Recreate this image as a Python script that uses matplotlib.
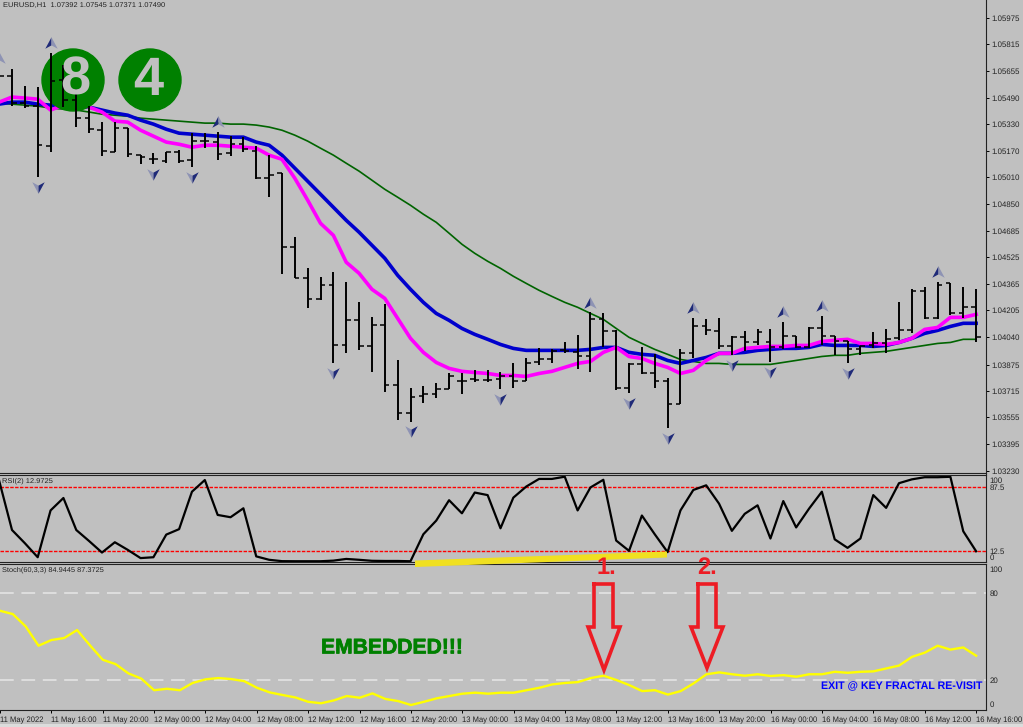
import numpy as np
import matplotlib
matplotlib.use('Agg')
import matplotlib.pyplot as plt
import matplotlib.patheffects as pe
from matplotlib.patches import Circle
from matplotlib.path import Path
from matplotlib.transforms import IdentityTransform

plt.rcParams['font.family'] = ['Liberation Sans', 'DejaVu Sans']
plt.rcParams['text.hinting'] = 'none'

W, H = 1023, 727
BG = '#c0c0c0'

# bars, index -1 is the one cut off at the left edge
opens = [1.05538, 1.05623, 1.05459, 1.05441, 1.05198, 1.05599, 1.05477, 1.05368, 1.05295, 1.05162, 1.05308, 1.05144, 1.05119, 1.05107, 1.05162, 1.05113, 1.05229, 1.05223, 1.05156, 1.05210, 1.05168, 1.05004, 1.05035, 1.04586, 1.04398, 1.04270, 1.04355, 1.03991, 1.04143, 1.03985, 1.04113, 1.03749, 1.03579, 1.03682, 1.03694, 1.03724, 1.03773, 1.03785, 1.03779, 1.03785, 1.03803, 1.03773, 1.03888, 1.03906, 1.03961, 1.03949, 1.03924, 1.04149, 1.04076, 1.03736, 1.03876, 1.03821, 1.03773, 1.03639, 1.03943, 1.04106, 1.04076, 1.03985, 1.04040, 1.04009, 1.04009, 1.03979, 1.04046, 1.03979, 1.04094, 1.04046, 1.04015, 1.03967, 1.03991, 1.04003, 1.04034, 1.04082, 1.04319, 1.04155, 1.04367, 1.04185, 1.04222]
highs = [1.05672, 1.05665, 1.05562, 1.05556, 1.05763, 1.05690, 1.05544, 1.05441, 1.05344, 1.05344, 1.05308, 1.05144, 1.05156, 1.05162, 1.05174, 1.05277, 1.05277, 1.05283, 1.05259, 1.05253, 1.05198, 1.05144, 1.05035, 1.04646, 1.04458, 1.04404, 1.04434, 1.04373, 1.04252, 1.04161, 1.04240, 1.03900, 1.03736, 1.03743, 1.03761, 1.03821, 1.03821, 1.03840, 1.03840, 1.03827, 1.03882, 1.03912, 1.03973, 1.03967, 1.04009, 1.04052, 1.04191, 1.04185, 1.04082, 1.03882, 1.03979, 1.03937, 1.03791, 1.03967, 1.04155, 1.04149, 1.04155, 1.04046, 1.04076, 1.04088, 1.04088, 1.04131, 1.04046, 1.04100, 1.04167, 1.04046, 1.04015, 1.03985, 1.04070, 1.04088, 1.04252, 1.04331, 1.04343, 1.04373, 1.04367, 1.04343, 1.04331]
lows = [1.05508, 1.05441, 1.05429, 1.05010, 1.05162, 1.05435, 1.05314, 1.05277, 1.05138, 1.05162, 1.05132, 1.05089, 1.05089, 1.05095, 1.05095, 1.05071, 1.05186, 1.05113, 1.05138, 1.05162, 1.04998, 1.04889, 1.04422, 1.04398, 1.04216, 1.04264, 1.03882, 1.03943, 1.03961, 1.03827, 1.03706, 1.03542, 1.03530, 1.03645, 1.03670, 1.03724, 1.03694, 1.03767, 1.03767, 1.03724, 1.03736, 1.03773, 1.03870, 1.03882, 1.03943, 1.03846, 1.03827, 1.03979, 1.03718, 1.03700, 1.03815, 1.03730, 1.03488, 1.03639, 1.03912, 1.04052, 1.03967, 1.03931, 1.03955, 1.03991, 1.03888, 1.03967, 1.03973, 1.03973, 1.03991, 1.03931, 1.03882, 1.03931, 1.03973, 1.03943, 1.04022, 1.04064, 1.04149, 1.04149, 1.04173, 1.04155, 1.04009]
closes = [1.05623, 1.05459, 1.05441, 1.05204, 1.05593, 1.05477, 1.05368, 1.05301, 1.05168, 1.05308, 1.05150, 1.05132, 1.05119, 1.05162, 1.05107, 1.05229, 1.05229, 1.05150, 1.05210, 1.05180, 1.05004, 1.05022, 1.04586, 1.04398, 1.04270, 1.04355, 1.03991, 1.04143, 1.03985, 1.04113, 1.03749, 1.03579, 1.03676, 1.03694, 1.03724, 1.03803, 1.03773, 1.03779, 1.03779, 1.03803, 1.03773, 1.03882, 1.03906, 1.03955, 1.03955, 1.03924, 1.04149, 1.04076, 1.03736, 1.03876, 1.03821, 1.03773, 1.03639, 1.03943, 1.04106, 1.04082, 1.03985, 1.04040, 1.04009, 1.04070, 1.03979, 1.04046, 1.03979, 1.04094, 1.04046, 1.04015, 1.03967, 1.03985, 1.04003, 1.04028, 1.04082, 1.04319, 1.04155, 1.04355, 1.04185, 1.04222, 1.04040]

ma_fast = [1.05465, 1.05496, 1.05490, 1.05483, 1.05417, 1.05447, 1.05453, 1.05435, 1.05405, 1.05350, 1.05344, 1.05295, 1.05259, 1.05223, 1.05210, 1.05192, 1.05204, 1.05204, 1.05198, 1.05192, 1.05186, 1.05144, 1.05119, 1.05004, 1.04871, 1.04731, 1.04658, 1.04495, 1.04428, 1.04331, 1.04276, 1.04155, 1.04034, 1.03949, 1.03888, 1.03852, 1.03834, 1.03827, 1.03821, 1.03809, 1.03809, 1.03803, 1.03821, 1.03834, 1.03858, 1.03882, 1.03894, 1.03949, 1.03979, 1.03924, 1.03912, 1.03882, 1.03858, 1.03821, 1.03840, 1.03900, 1.03943, 1.03943, 1.03973, 1.03979, 1.03985, 1.03985, 1.03991, 1.03991, 1.04015, 1.04022, 1.04028, 1.04003, 1.04003, 1.03997, 1.04009, 1.04034, 1.04088, 1.04100, 1.04161, 1.04161, 1.04179]
ma_mid = [1.05453, 1.05465, 1.05465, 1.05453, 1.05447, 1.05441, 1.05441, 1.05435, 1.05417, 1.05399, 1.05386, 1.05356, 1.05332, 1.05301, 1.05277, 1.05271, 1.05265, 1.05259, 1.05253, 1.05253, 1.05223, 1.05204, 1.05144, 1.05065, 1.04986, 1.04907, 1.04828, 1.04749, 1.04677, 1.04598, 1.04519, 1.04416, 1.04331, 1.04252, 1.04185, 1.04143, 1.04094, 1.04058, 1.04028, 1.03997, 1.03973, 1.03961, 1.03961, 1.03961, 1.03961, 1.03961, 1.03967, 1.03979, 1.03979, 1.03949, 1.03937, 1.03931, 1.03900, 1.03882, 1.03900, 1.03918, 1.03943, 1.03943, 1.03949, 1.03961, 1.03967, 1.03973, 1.03973, 1.03979, 1.03997, 1.03991, 1.03991, 1.03991, 1.03985, 1.03991, 1.04009, 1.04034, 1.04064, 1.04082, 1.04106, 1.04125, 1.04125]
ma_slow = [1.05459, 1.05453, 1.05447, 1.05441, 1.05429, 1.05423, 1.05417, 1.05405, 1.05392, 1.05386, 1.05380, 1.05368, 1.05362, 1.05356, 1.05350, 1.05344, 1.05338, 1.05338, 1.05332, 1.05332, 1.05326, 1.05314, 1.05295, 1.05265, 1.05229, 1.05186, 1.05144, 1.05095, 1.05047, 1.04992, 1.04937, 1.04889, 1.04840, 1.04786, 1.04737, 1.04671, 1.04604, 1.04549, 1.04501, 1.04458, 1.04410, 1.04367, 1.04325, 1.04288, 1.04252, 1.04222, 1.04185, 1.04149, 1.04094, 1.04040, 1.04003, 1.03967, 1.03937, 1.03906, 1.03894, 1.03882, 1.03882, 1.03876, 1.03876, 1.03876, 1.03876, 1.03888, 1.03900, 1.03912, 1.03924, 1.03931, 1.03931, 1.03943, 1.03949, 1.03955, 1.03967, 1.03979, 1.03991, 1.04003, 1.04009, 1.04028, 1.04028]

fractals_up = [-1, 3, 16, 45, 53, 60, 63, 72]
fractals_down = [2, 11, 14, 25, 31, 38, 48, 51, 56, 59, 65]

rsi = [95, 37, 21.5, 5, 60, 74.6, 37, 24, 10.5, 22.6, 13.7, 4, 5, 31.6, 38, 82, 95.7, 54.7, 52, 62.5, 6, 2, 0.4, 0.3, 0.3, 0.3, 1, 3, 2, 0.8, 0.6, 0.6, 0.3, 32, 48, 72, 56.6, 81, 78, 39, 75, 88, 97, 97, 99.6, 60, 87, 96, 24.6, 12.5, 54, 32, 11, 60, 84, 89.5, 68, 36, 56, 66, 27, 71, 40, 62, 82, 26, 16, 27, 78, 63, 92, 96.5, 99, 99, 99.5, 35.5, 12]
stoch = [67.8, 65.5, 57, 43.7, 47.6, 49, 54.5, 44, 34, 31, 24.6, 21, 13, 14, 13, 18, 20.5, 21.4, 20.7, 19.3, 14.7, 11.5, 9.7, 8, 5, 4, 6, 9, 7.8, 10.8, 7, 5.5, 2.8, 5, 7.4, 9, 10.6, 11.3, 10.6, 11.3, 11.3, 13, 14.7, 17, 18, 18.6, 21.4, 23, 20, 16.5, 12.4, 13, 10, 12.4, 17.7, 24, 25.3, 24, 23, 24, 22.8, 23.4, 22.3, 24, 24, 25.7, 25, 25.7, 26, 28, 30, 36, 38.9, 43.7, 41, 42.5, 36.8]

price_ticks = [1.05975, 1.05815, 1.05655, 1.05490, 1.05330, 1.05170, 1.05010, 1.04850, 1.04685, 1.04525, 1.04365, 1.04205, 1.04040, 1.03875, 1.03715, 1.03555, 1.03395, 1.03230]
time_ticks = [-1, 3, 7, 11, 15, 19, 23, 27, 31, 35, 39, 43, 47, 51, 55, 59, 63, 67, 71, 75]
time_labels = ['11 May 2022', '11 May 16:00', '11 May 20:00', '12 May 00:00', '12 May 04:00', '12 May 08:00', '12 May 12:00',
               '12 May 16:00', '12 May 20:00', '13 May 00:00', '13 May 04:00', '13 May 08:00', '13 May 12:00', '13 May 16:00',
               '13 May 20:00', '16 May 00:00', '16 May 04:00', '16 May 08:00', '16 May 12:00', '16 May 16:00']

x = np.arange(-1, 76)
opens, highs, lows, closes = map(np.array, (opens, highs, lows, closes))


def panel(top, bottom, ylim):
    ax = fig.add_axes([0, 1 - bottom / H, 985.5 / W, (bottom - top) / H], facecolor=BG)
    ax.set_xlim(-0.9335, 75.73)
    ax.set_ylim(*ylim)
    ax.yaxis.tick_right()
    ax.spines['left'].set_visible(False)
    for side in ('right', 'top', 'bottom'):
        ax.spines[side].set_color('#222222')
    ax.tick_params(axis='y', labelsize=5.7, length=2.5, width=0.7, pad=2, labelcolor='#222222')
    ax.set_xticks([])
    return ax


def px_text(px, py, s, **kw):
    kw.setdefault('va', 'center')
    return fig.text(px / W, 1 - py / H, s, **kw)


fig = plt.figure(figsize=(W / 100, H / 100), dpi=100, facecolor=BG)

# price panel
ax = panel(0, 472.5, (1.03221, 1.06084))
ax.spines['top'].set_visible(False)
ax.set_yticks(price_ticks)
ax.set_yticklabels(['%.5f' % p for p in price_ticks])
ax.plot(x, ma_slow, color='#006400', lw=1.2, zorder=2)
ax.plot(x, ma_mid, color='#0000cd', lw=2.6, zorder=2.1)
ax.plot(x, ma_fast, color='#ff00ff', lw=2.6, zorder=2.2)

for cx in (73, 150):
    ax.add_patch(Circle((cx, H - 80), 31, transform=IdentityTransform(), color='#008000', zorder=3))

ax.vlines(x, lows, highs, color='black', lw=1.4, zorder=4)
ax.hlines(opens, x - 0.36, x, color='black', lw=1.1, zorder=4)
ax.hlines(closes, x, x + 0.36, color='black', lw=1.1, zorder=4)

# fractal arrows, dark left half and pale right half
up_l = Path([(0, 1), (-1, -0.85), (0, -0.3), (0, 1)])
up_r = Path([(0, 1), (1, -0.85), (0, -0.3), (0, 1)])
down_l = Path([(0, -1), (-1, 0.85), (0, 0.3), (0, -1)])
down_r = Path([(0, -1), (1, 0.85), (0, 0.3), (0, -1)])
gap = 0.0006
fu = np.array(fractals_up)
fd = np.array(fractals_down)
ax.scatter(fu, highs[fu + 1] + gap, marker=up_l, s=80, color='#1f2a78', linewidths=0, zorder=5)
ax.scatter(fu, highs[fu + 1] + gap, marker=up_r, s=80, color='#8e93b4', linewidths=0, zorder=5)
ax.scatter(fd, lows[fd + 1] - gap, marker=down_l, s=80, color='#8e93b4', linewidths=0, zorder=5)
ax.scatter(fd, lows[fd + 1] - gap, marker=down_r, s=80, color='#1f2a78', linewidths=0, zorder=5)

# RSI panel
ax2 = panel(474.5, 562, (-0.6, 102.2))
ax2.set_yticks([96, 87, 12.5, 4.7])
ax2.set_yticklabels(['100', '87.5', '12.5', '0'])
ax2.tick_params(axis='y', length=0, pad=3)
ax2.axhline(87.5, color='#ff0000', lw=1.0, ls=(0, (2.5, 1)))
ax2.axhline(12.5, color='#ff0000', lw=1.0, ls=(0, (2.5, 1)))
ax2.plot(x, rsi, color='black', lw=1.6)

# Stochastic panel
ax3 = panel(563.5, 709.5, (-0.3, 100.4))
ax3.set_yticks([96.5, 80, 20, 3.5])
ax3.set_yticklabels(['100', '80', '20', '0'])
ax3.tick_params(axis='y', length=0, pad=3)
ax3.axhline(80, color='#e6e6e6', lw=1.1, ls=(0, (9, 5)))
ax3.axhline(20, color='#e6e6e6', lw=1.1, ls=(0, (9, 5)))
ax3.plot(x, stoch, color='#ffff00', lw=1.7)
ax3.set_xticks(time_ticks)
ax3.set_xticklabels(time_labels, ha='left')
ax3.tick_params(axis='x', labelsize=5.5, length=2.5, width=0.7, pad=2.5, labelcolor='#222222')

# hand drawn markup on top, in image pixels
over = fig.add_axes([0, 0, 1, 1], facecolor='none')
over.set_xlim(0, W)
over.set_ylim(H, 0)
over.axis('off')
over.fill([0, W, W, 0], [724, 724, H, H], color='#dcdcdc', lw=0)
over.fill([415, 667, 667, 415], [560.5, 551.5, 557.5, 567], color='#f0e020', lw=0)
for sx, ex, head_l, head_r, tip_x, tip_y in [(594, 613, 588, 620, 604, 670), (698, 716, 691, 723, 707, 668)]:
    over.plot([sx, ex, ex, head_r, tip_x, head_l, sx, sx], [584, 584, 627, 627, tip_y, 627, 627, 584],
              color='#ed1c24', lw=2.6, solid_joinstyle='miter')

px_text(3, 5, 'EURUSD,H1  1.07392 1.07545 1.07371 1.07490', fontsize=5.4, color='#222222')
px_text(2, 481, 'RSI(2) 12.9725', fontsize=5.4, color='#222222')
px_text(2, 570, 'Stoch(60,3,3) 84.9445 87.3725', fontsize=5.35, color='#222222')
px_text(75, 81, '8', fontsize=39, color=BG, ha='center', fontweight='bold')
px_text(148, 81, '4', fontsize=39, color=BG, ha='center', fontweight='bold')
px_text(597, 574, '1.', fontsize=17, color='#ed1c24', fontweight='bold', va='baseline')
px_text(697, 574, '2.', fontsize=17, color='#ed1c24', fontweight='bold', va='baseline')
t = px_text(321, 648, 'EMBEDDED!!!', fontsize=15.2, color='#008000', fontweight='bold')
t.set_path_effects([pe.withStroke(linewidth=0.5, foreground='#008000')])
px_text(821, 686, 'EXIT @ KEY FRACTAL RE-VISIT', fontsize=7.7, color='#0000ff', fontweight='bold')

fig.savefig('out.png', dpi=100, facecolor=BG)
